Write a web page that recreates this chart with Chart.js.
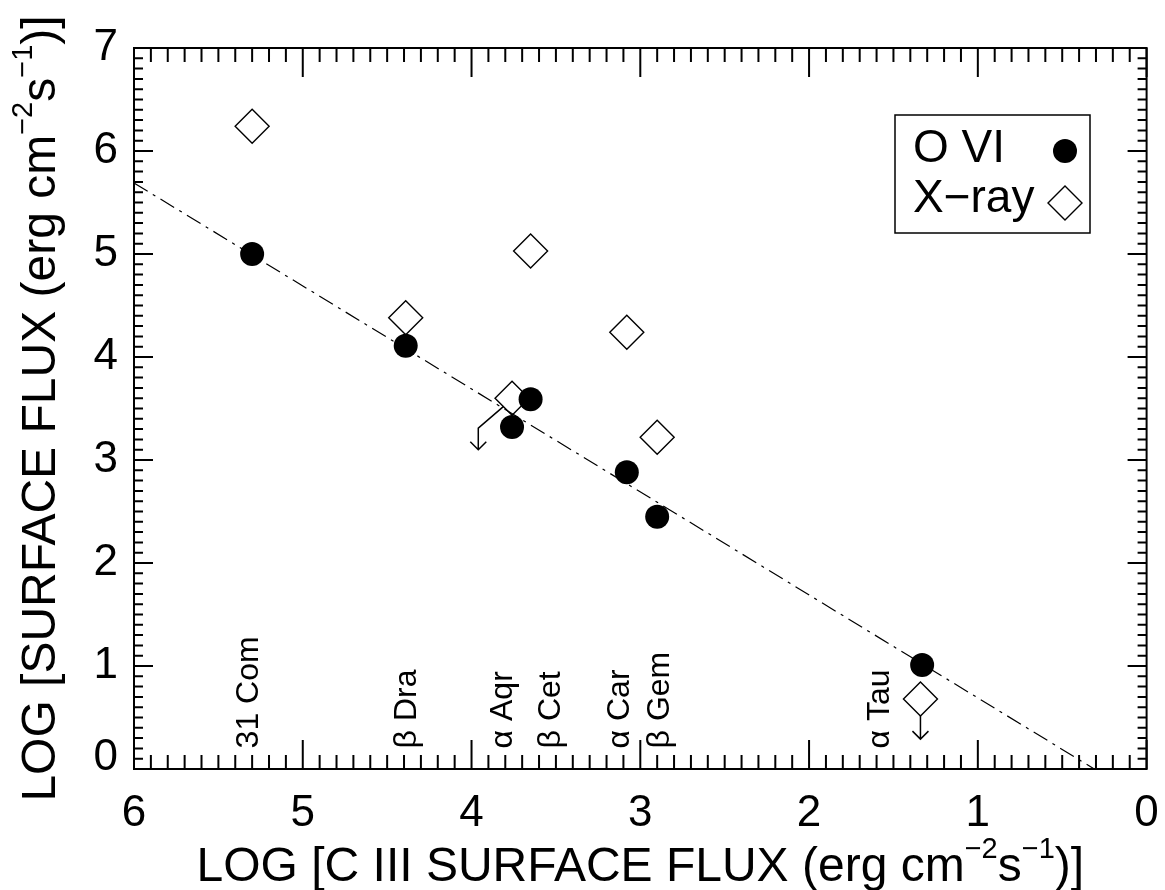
<!DOCTYPE html>
<html>
<head>
<meta charset="utf-8">
<script src="https://cdn.jsdelivr.net/npm/chart.js@4/dist/chart.umd.min.js"></script>
<style>
  body { margin: 0; background: #fff; }
  canvas { display: block; }
</style>
</head>
<body>
<canvas id="fluxChart" width="1165" height="890"></canvas>
<script>
// values (log surface fluxes)
const stars = ["31 Com", "β Dra", "α Aqr", "β Cet", "α Car", "β Gem", "α Tau"];
const c3Flux = [5.30, 4.39, 3.76, 3.65, 3.08, 2.90, 1.33];
const o6Flux = [5.00, 4.11, 3.32, 3.59, 2.88, 2.45, 1.01];
const xrayC3 = [5.30, 4.39, 3.76, 3.65, 3.08, 2.90, 1.34];
const xrayFlux = [6.24, 4.38, 3.60, 5.03, 4.24, 3.22, 0.68];

// upper limit arrows for the x-ray values of alpha Aqr and alpha Tau
const limitArrows = [
    [[3.81, 3.52], [3.96, 3.31], [3.96, 3.10]],
    [[1.34, 0.52], [1.34, 0.29]]
];

// where the star names sit
const labelX = [5.32, 4.38, 3.81, 3.53, 3.12, 2.88, 1.58];
const labelY = 0.2;

// dash-dot fit line
const fitX = [6, 0.31];
const fitY = [5.69, 0];

const xTitle = [["LOG [C III SURFACE FLUX (erg cm"], ["−2", 1], ["s"], ["−1", 1], [")]"]];
const yTitle = [["LOG [SURFACE FLUX (erg cm"], ["−2", 1], ["s"], ["−1", 1], [")]"]];

const FONT = "'Liberation Sans', Arial, Helvetica, sans-serif";

function drawTitle(ctx, parts, x, y) {
    // x,y = centre of baseline
    let w = 0;
    parts.forEach(p => {
        ctx.font = (p[1] ? 29 : 48) + "px " + FONT;
        w += ctx.measureText(p[0]).width;
    });
    let cx = x - w / 2;
    ctx.textAlign = "left";
    ctx.textBaseline = "alphabetic";
    parts.forEach(p => {
        ctx.font = (p[1] ? 29 : 48) + "px " + FONT;
        ctx.fillText(p[0], cx, p[1] ? y - 23 : y);
        cx += ctx.measureText(p[0]).width;
    });
}

const framePlugin = {
    id: "frame",
    afterDatasetsDraw(chart) {
        const ctx = chart.ctx;
        const a = chart.chartArea;
        const xs = chart.scales.x, ys = chart.scales.y;
        ctx.save();
        ctx.strokeStyle = "#000";
        ctx.fillStyle = "#000";

        // box
        ctx.lineWidth = 2;
        ctx.strokeRect(a.left, a.top, a.right - a.left, a.bottom - a.top);

        // inward ticks on all sides
        ctx.beginPath();
        for (let i = 0; i <= 60; i++) {
            const v = i / 10;
            const px = xs.getPixelForValue(v);
            const len = i % 10 === 0 ? 29 : 14;
            ctx.moveTo(px, a.bottom); ctx.lineTo(px, a.bottom - len);
            ctx.moveTo(px, a.top); ctx.lineTo(px, a.top + len);
        }
        for (let i = 0; i <= 70; i++) {
            const v = i / 10;
            const py = ys.getPixelForValue(v);
            const len = i % 10 === 0 ? 19 : 9;
            ctx.moveTo(a.left, py); ctx.lineTo(a.left + len, py);
            ctx.moveTo(a.right, py); ctx.lineTo(a.right - len, py);
        }
        ctx.stroke();

        // upper limit arrows
        ctx.lineWidth = 1.5;
        limitArrows.forEach(path => {
            ctx.beginPath();
            path.forEach((p, k) => {
                const px = xs.getPixelForValue(p[0]), py = ys.getPixelForValue(p[1]);
                if (k === 0) ctx.moveTo(px, py); else ctx.lineTo(px, py);
            });
            const end = path[path.length - 1];
            const ex = xs.getPixelForValue(end[0]), ey = ys.getPixelForValue(end[1]);
            ctx.moveTo(ex - 8, ey - 8); ctx.lineTo(ex, ey); ctx.lineTo(ex + 8, ey - 8);
            ctx.stroke();
        });

        // star names
        ctx.font = "32px " + FONT;
        ctx.textAlign = "left";
        ctx.textBaseline = "middle";
        stars.forEach((s, i) => {
            ctx.save();
            ctx.translate(xs.getPixelForValue(labelX[i]), ys.getPixelForValue(labelY));
            ctx.rotate(-Math.PI / 2);
            ctx.fillText(s, 0, 0);
            ctx.restore();
        });

        // legend
        ctx.lineWidth = 1.5;
        ctx.strokeRect(895, 115, 195, 118);
        ctx.font = "46px " + FONT;
        ctx.textBaseline = "alphabetic";
        const legendSets = chart.data.datasets.filter(d => d.inLegend);
        legendSets.forEach((d, i) => {
            ctx.fillStyle = "#000";
            ctx.fillText(d.label, 913, 162 + i * 50);
            ctx.fillStyle = d.backgroundColor;
            ctx.strokeStyle = d.borderColor;
            ctx.lineWidth = d.borderWidth;
            Chart.helpers.drawPoint(ctx, {
                pointStyle: d.pointStyle, radius: d.pointRadius,
                borderWidth: d.borderWidth, rotation: 0
            }, 1065, 151 + i * 52);
        });

        // axis titles
        ctx.fillStyle = "#000";
        drawTitle(ctx, xTitle, (a.left + a.right) / 2, 881);
        ctx.save();
        ctx.translate(55, (a.top + a.bottom) / 2);
        ctx.rotate(-Math.PI / 2);
        drawTitle(ctx, yTitle, 0, 0);
        ctx.restore();

        ctx.restore();
    }
};

// keep the plot box fixed: no extra room for overhanging edge labels
function fixBox(s, size) {
    if (s.isHorizontal()) s.height = size; else s.width = size;
    s.paddingLeft = s.paddingRight = s.paddingTop = s.paddingBottom = 0;
}

new Chart(document.getElementById("fluxChart"), {
    type: "scatter",
    data: {
        datasets: [
            {
                label: "O VI",
                inLegend: true,
                data: c3Flux.map((x, i) => ({ x: x, y: o6Flux[i] })),
                pointStyle: "circle",
                pointRadius: 12,
                backgroundColor: "#000",
                borderColor: "#000",
                borderWidth: 0,
                order: 0
            },
            {
                label: "X−ray",
                inLegend: true,
                data: xrayC3.map((x, i) => ({ x: x, y: xrayFlux[i] })),
                pointStyle: "rectRot",
                pointRadius: 17,
                backgroundColor: "rgba(0,0,0,0)",
                borderColor: "#000",
                borderWidth: 1.4,
                order: 1
            },
            {
                label: "fit",
                data: fitX.map((x, i) => ({ x: x, y: fitY[i] })),
                showLine: true,
                pointRadius: 0,
                borderColor: "#000",
                borderWidth: 1.2,
                borderDash: [16, 6, 3, 6],
                order: 2
            }
        ]
    },
    options: {
        responsive: false,
        animation: false,
        events: [],
        layout: { padding: { left: 0, right: 15, top: 48, bottom: 0 } },
        plugins: { legend: { display: false }, tooltip: { enabled: false } },
        scales: {
            x: {
                type: "linear",
                reverse: true,
                min: 0,
                max: 6,
                afterFit: s => fixBox(s, 121),
                grid: { display: false, drawTicks: false },
                border: { display: false },
                ticks: {
                    stepSize: 1,
                    autoSkip: false,
                    maxRotation: 0,
                    padding: 18,
                    color: "#000",
                    font: { family: FONT, size: 44 }
                }
            },
            y: {
                type: "linear",
                min: 0,
                max: 7,
                afterFit: s => fixBox(s, 134),
                grid: { display: false, drawTicks: false },
                border: { display: false },
                ticks: {
                    stepSize: 1,
                    autoSkip: false,
                    padding: 16,
                    color: "#000",
                    font: { family: FONT, size: 44, lineHeight: 0.5 },
                    callback: v => v === 0 ? ["0", ""] : String(v)
                }
            }
        }
    },
    plugins: [framePlugin]
});
</script>
</body>
</html>
